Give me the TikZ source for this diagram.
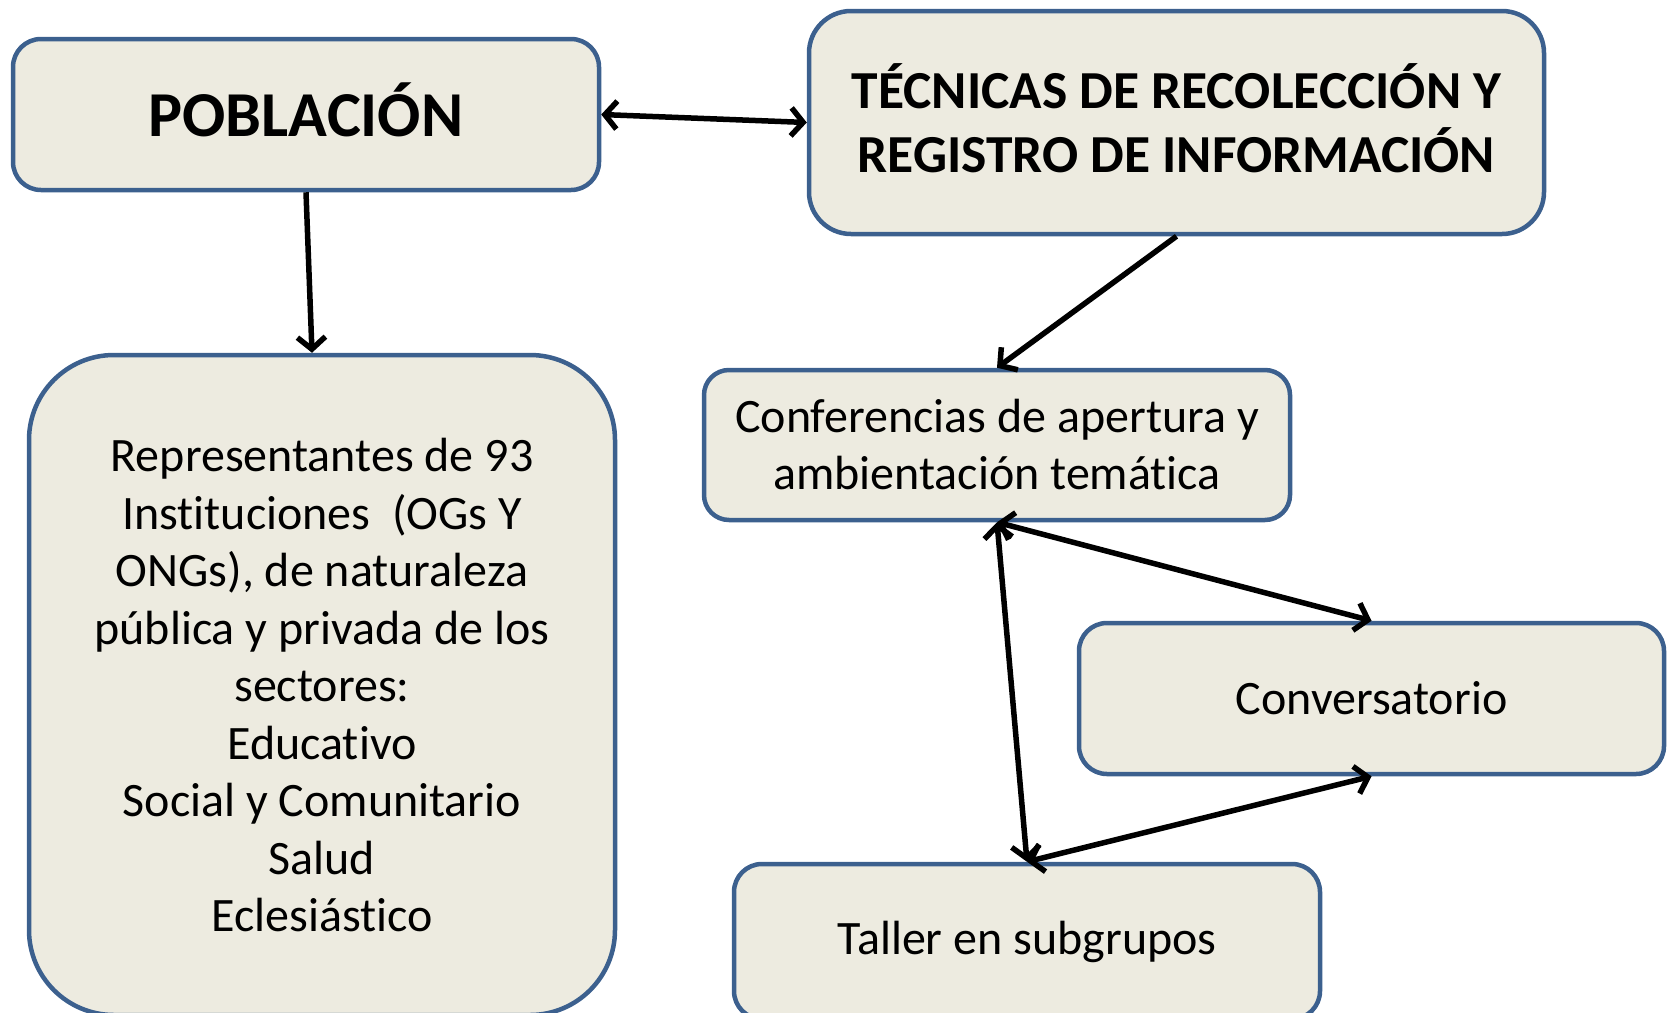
\documentclass[tikz,border=0pt]{standalone}
\usepackage{fontspec}
\setmainfont[Ligatures=NoCommon]{Carlito}
\usetikzlibrary{arrows.meta}
\definecolor{boxfill}{RGB}{237,235,224}
\definecolor{boxline}{RGB}{60,96,142}
\tikzset{
  box/.style={draw=boxline, fill=boxfill, line width=4.5pt, rectangle, align=center, inner sep=0pt, text=black},
  tip/.tip={Straight Barb[length=12pt,width=28pt,line width=5.5pt]},
  conn/.style={line width=5.5pt, draw=black, tip-tip},
  oneway/.style={line width=5.5pt, draw=black, -tip},
}
\begin{document}
\begin{tikzpicture}[x=1pt,y=1pt]
\useasboundingbox (0,0) rectangle (1670,-1012);
\clip (0,0) rectangle (1670,-1012);
\node[box, rounded corners=28pt, minimum width=586pt, minimum height=151pt, text depth=10pt, font=\fontsize{64}{76}\selectfont\bfseries] (pob) at (306,-114.5) {POBLACIÓN};
\node[box, rounded corners=42pt, minimum width=735pt, minimum height=223pt, text depth=8pt, font=\fontsize{53.5}{64}\selectfont\bfseries] (tec) at (1176.5,-122.5) {TÉCNICAS DE RECOLECCIÓN Y\\REGISTRO DE INFORMACIÓN};
\node[box, rounded corners=85pt, minimum width=586pt, minimum height=660pt, font=\fontsize{48}{57.5}\selectfont] (rep) at (322,-685) {Representantes de 93\\Instituciones~~(OGs Y\\ONGs), de naturaleza\\pública y privada de los\\sectores:\\Educativo\\Social y Comunitario\\Salud\\Eclesiástico};
\node[box, rounded corners=25pt, minimum width=586pt, minimum height=150pt, font=\fontsize{48}{57}\selectfont] (conf) at (997,-445) {Conferencias de apertura y\\ambientación temática};
\node[box, rounded corners=28pt, minimum width=585pt, minimum height=151pt, font=\fontsize{48}{57}\selectfont] (conv) at (1371.5,-698.5) {Conversatorio};
\node[box, rounded corners=28pt, minimum width=586pt, minimum height=155pt, font=\fontsize{48}{57}\selectfont] (tal) at (1027,-941.5) {Taller en subgrupos};
\draw[conn] (pob.east) -- (tec.west);
\draw[oneway] (pob.south) -- ([xshift=-10pt]rep.north);
\draw[oneway] (tec.south) -- (conf.north);
\draw[conn] (conf.south) -- (conv.north);
\draw[conn] (conf.south) -- (tal.north);
\draw[conn] (tal.north) -- (conv.south);
\end{tikzpicture}
\end{document}
